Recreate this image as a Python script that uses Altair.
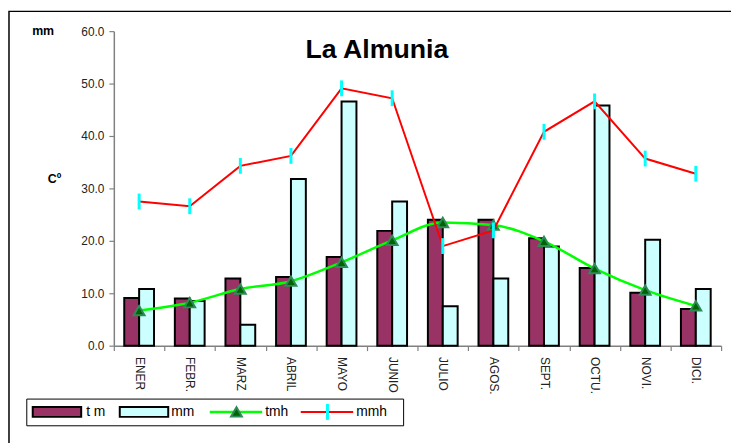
import altair as alt
import pandas as pd

months = ["ENER", "FEBR.", "MARZ", "ABRIL", "MAYO", "JUNIO",
          "JULIO", "AGOS.", "SEPT.", "OCTU.", "NOVI.", "DICI."]
tm = [9.1, 9.0, 12.8, 13.1, 16.9, 21.9, 24.0, 24.0, 20.5, 14.8, 10.1, 7.0]
mm = [10.8, 8.5, 4.0, 31.8, 46.6, 27.5, 7.5, 12.8, 18.9, 45.8, 20.2, 10.8]
tmh = [6.7, 8.2, 10.8, 12.3, 15.9, 20.1, 23.5, 23.0, 19.9, 14.7, 10.6, 7.6]
mmh = [27.5, 26.6, 34.3, 36.2, 49.1, 47.2, 19.0, 22.0, 40.8, 46.6, 35.7, 32.8]
y_ticks = [0, 10, 20, 30, 40, 50, 60]
series_names = ["t m", "mm", "tmh", "mmh"]

FONT = "Liberation Sans"

df = pd.DataFrame({"mes": months, "tm": tm, "mm": mm, "tmh": tmh, "mmh": mmh})
bars_df = df.melt(id_vars="mes", value_vars=["tm", "mm"], var_name="serie", value_name="valor")
one = pd.DataFrame({"k": [0]})

x_enc = alt.X(
    "mes:N", sort=months,
    scale=alt.Scale(paddingInner=0, paddingOuter=0),
    axis=alt.Axis(
        title=None, labelAngle=90, tickBand="extent", labelOverlap=False,
        labelPadding=6, tickSize=5, labelFontSize=12,
    ),
)
y_scale = alt.Scale(domain=[0, 60], nice=False)
y_axis = alt.Axis(
    title=None, values=y_ticks, format=".1f", tickSize=5, labelPadding=5,
    labelFontSize=12, grid=False,
)

bars = alt.Chart(bars_df).mark_bar(stroke="black", strokeWidth=2).encode(
    x=x_enc,
    xOffset=alt.XOffset("serie:N", sort=["tm", "mm"],
                        scale=alt.Scale(paddingOuter=0.7, paddingInner=0)),
    y=alt.Y("valor:Q", scale=y_scale, axis=y_axis),
    color=alt.Color("serie:N", scale=alt.Scale(domain=["tm", "mm"], range=["#993366", "#CCFFFF"]),
                    legend=None),
)

tmh_line = alt.Chart(df).mark_line(color="#00FF00", strokeWidth=2.5, interpolate="monotone").encode(
    x=x_enc, y=alt.Y("tmh:Q", scale=y_scale, axis=y_axis))
tmh_pts = alt.Chart(df).mark_point(shape="triangle-up", filled=True, fill="#006400", stroke="#2E8B57",
                                   strokeWidth=2, size=120, opacity=1).encode(
    x=x_enc, y=alt.Y("tmh:Q", scale=y_scale, axis=y_axis))
mmh_line = alt.Chart(df).mark_line(color="#FF0000", strokeWidth=2).encode(
    x=x_enc, y=alt.Y("mmh:Q", scale=y_scale, axis=y_axis))
mmh_pts = alt.Chart(df).mark_point(shape="M0,-1L0,1", filled=False, stroke="#00FFFF",
                                   strokeWidth=3, size=256, opacity=1).encode(
    x=x_enc, y=alt.Y("mmh:Q", scale=y_scale, axis=y_axis))

base1 = alt.Chart(one)

# outer frame
frame = base1.mark_rect(fill=None, stroke="black", strokeWidth=1.5).encode(
    x=alt.value(-106), x2=alt.value(800), y=alt.value(-20), y2=alt.value(600))

title = base1.mark_text(text="La Almunia", font=FONT, fontSize=27, fontWeight="bold",
                        align="center", baseline="alphabetic", color="black").encode(
    x=alt.value(266), y=alt.value(27))
lab_mm = base1.mark_text(text="mm", font=FONT, fontSize=12.5, fontWeight="bold",
                         align="center", baseline="middle", color="black").encode(
    x=alt.value(-71.5), y=alt.value(0))
lab_c = base1.mark_text(text="Cº", font=FONT, fontSize=12.5, fontWeight="bold",
                        align="center", baseline="middle", color="black").encode(
    x=alt.value(-60), y=alt.value(150))

# legend
LY = 385
leg_box = base1.mark_rect(fill="white", stroke="black", strokeWidth=1).encode(
    x=alt.value(-88), x2=alt.value(293), y=alt.value(372), y2=alt.value(399))
sw_tm = base1.mark_rect(fill="#993366", stroke="black", strokeWidth=2).encode(
    x=alt.value(-82), x2=alt.value(-33), y=alt.value(LY - 5), y2=alt.value(LY + 5))
sw_mm = base1.mark_rect(fill="#CCFFFF", stroke="black", strokeWidth=2).encode(
    x=alt.value(6), x2=alt.value(55), y=alt.value(LY - 5), y2=alt.value(LY + 5))
lg_tmh = base1.mark_rule(color="#00FF00", strokeWidth=2.5).encode(
    x=alt.value(97), x2=alt.value(150), y=alt.value(LY))
lg_tmh_pt = base1.mark_point(shape="triangle-up", filled=True, fill="#006400", stroke="#2E8B57",
                             strokeWidth=2, size=120, opacity=1).encode(
    x=alt.value(124), y=alt.value(LY))
lg_mmh = base1.mark_rule(color="#FF0000", strokeWidth=2).encode(
    x=alt.value(189), x2=alt.value(242), y=alt.value(LY))
lg_mmh_pt = base1.mark_point(shape="M0,-1L0,1", filled=False, stroke="#00FFFF",
                             strokeWidth=3, size=256, opacity=1).encode(
    x=alt.value(216), y=alt.value(LY))
leg_texts = []
for name, xpos in zip(series_names, [-28, 58, 153, 245]):
    leg_texts.append(base1.mark_text(text=name, font=FONT, fontSize=14, align="left",
                                     baseline="middle", color="black").encode(
        x=alt.value(xpos), y=alt.value(LY)))

chart = alt.layer(
    frame, bars, tmh_line, tmh_pts, mmh_line, mmh_pts, title, lab_mm, lab_c,
    leg_box, sw_tm, sw_mm, lg_tmh, lg_tmh_pt, lg_mmh, lg_mmh_pt, *leg_texts,
).properties(
    width=614, height=318,
    autosize=alt.AutoSizeParams(type="none"),
    padding={"left": 107, "top": 21, "right": 10, "bottom": 96},
).configure_view(stroke=None).configure_axis(
    domainColor="#808080", domainWidth=1.5, tickColor="#808080", tickWidth=1.2,
    labelColor="#222222", labelFont=FONT,
)

chart.save("out.html", embed_options={"renderer": "svg", "actions": False})
